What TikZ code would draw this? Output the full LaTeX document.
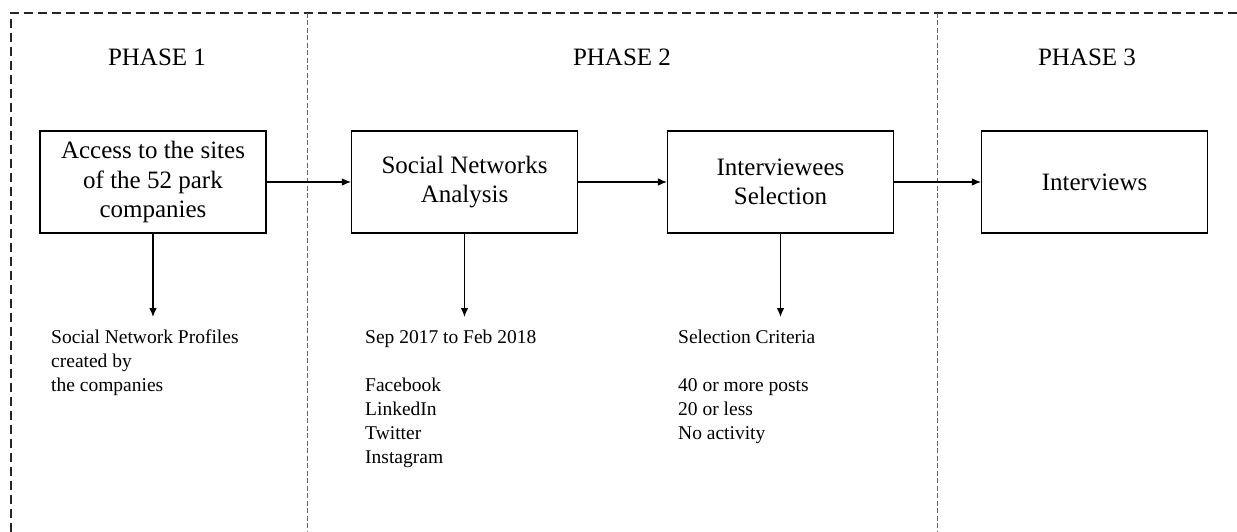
\documentclass[tikz,border=0pt]{standalone}
\usepackage{fontspec}
\setmainfont{Liberation Serif}
\usetikzlibrary{arrows.meta}
\begin{document}
\begin{tikzpicture}[x=1pt,y=-1pt,
  phase/.style={font=\fontsize{25}{30}\selectfont, inner sep=0pt},
  stepbox/.style={draw=black, line width=1.1pt, minimum width=226pt, minimum height=102pt,
    align=center, font=\fontsize{25}{29.5}\selectfont, inner sep=2pt},
  note/.style={anchor=north west, align=left, inner sep=0pt, font=\fontsize{19.5}{24}\selectfont},
  flow/.style={draw=black, line width=1.1pt, -{Latex[length=9pt,width=7.5pt]}},
  frame/.style={draw=black!85, line width=1.1pt, dash pattern=on 9pt off 5pt},
  divider/.style={draw=black!60, line width=0.7pt, dash pattern=on 5pt off 2.5pt}]
\useasboundingbox (0,0) rectangle (1237,532);
% frame and dividers
\draw[frame] (11,532) -- (11,13) -- (1237,13);
\draw[divider] (307,13) -- (307,532);
\draw[divider] (937,13) -- (937,532);
% phase labels
\node[phase] (p1) at (157,57) {PHASE 1};
\node[phase] (p2) at (622,57) {PHASE 2};
\node[phase] (p3) at (1087,57) {PHASE 3};
% boxes
\node[stepbox] (b1) at (153,182) {Access to the sites\\of the 52 park\\companies};
\node[stepbox] (b2) at (464.5,182) {Social Networks\\Analysis};
\node[stepbox] (b3) at (780.5,182) {Interviewees\\Selection};
\node[stepbox] (b4) at (1094.5,182) {Interviews};
% horizontal connectors
\draw[flow] (b1.east) -- (b2.west);
\draw[flow] (b2.east) -- (b3.west);
\draw[flow] (b3.east) -- (b4.west);
% down arrows
\coordinate (e1) at (153,317);
\coordinate (e2) at (464.5,317);
\coordinate (e3) at (780.5,317);
\draw[flow] (b1.south) -- (e1);
\draw[flow] (b2.south) -- (e2);
\draw[flow] (b3.south) -- (e3);
% notes
\node[note] (n1) at (51,330) {Social Network Profiles\\created by\\the companies};
\node[note] (n2) at (365,330) {Sep 2017 to Feb 2018\\[24pt]Facebook\\LinkedIn\\Twitter\\Instagram};
\node[note] (n3) at (678,330) {Selection Criteria\\[24pt]40 or more posts\\20 or less\\No activity};
\end{tikzpicture}
\end{document}
